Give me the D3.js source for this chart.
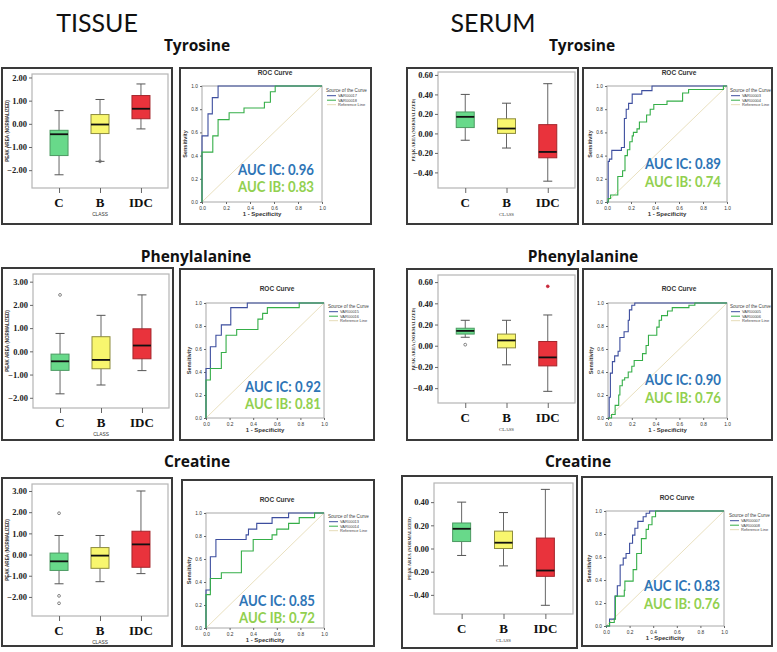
<!DOCTYPE html>
<html><head><meta charset="utf-8">
<script src="https://cdn.jsdelivr.net/npm/d3@7"></script>
<style>body{margin:0;background:#fff}svg{display:block}</style>
</head><body>
<svg id="chart" width="777" height="652"></svg>
<script>
// ---------------- DATA ----------------
const categories = ["C", "B", "IDC"];
const sectionTitles = ["TISSUE", "SERUM"];
const rowTitles = ["Tyrosine", "Phenylalanine", "Creatine"];

// box stats per class: [low whisker, Q1, median, Q3, high whisker]
const tissueTyrosineBox = [[-2.2, -1.37, -0.45, -0.28, 0.57], [-1.62, -0.42, -0.03, 0.40, 1.05], [-0.22, 0.22, 0.65, 1.22, 1.72]];
const tissueTyrosineOut = [[], [-1.62], []];
const tissuePhenylBox = [[-1.83, -0.82, -0.43, -0.12, 0.77], [-1.45, -0.75, -0.37, 0.63, 1.55], [-0.83, -0.32, 0.25, 0.97, 2.43]];
const tissuePhenylOut = [[2.43], [], []];
const tissueCreatineBox = [[-1.38, -0.75, -0.32, 0.07, 0.9], [-1.28, -0.65, -0.05, 0.33, 0.9], [-0.9, -0.6, 0.48, 1.1, 3.0]];
const tissueCreatineOut = [[1.95, -1.95, -2.3], [], []];
const serumTyrosineBox = [[-0.07, 0.06, 0.17, 0.22, 0.40], [-0.15, 0.0, 0.05, 0.15, 0.31], [-0.49, -0.25, -0.19, 0.09, 0.51]];
const serumTyrosineOut = [[], [], []];
const serumPhenylBox = [[0.08, 0.11, 0.14, 0.165, 0.24], [-0.18, -0.02, 0.05, 0.11, 0.24], [-0.43, -0.19, -0.11, 0.04, 0.29]];
const serumPhenylOut = [[0.01], [], [0.56]];
const serumCreatineBox = [[-0.06, 0.06, 0.17, 0.22, 0.40], [-0.15, 0.0, 0.05, 0.15, 0.31], [-0.49, -0.24, -0.19, 0.09, 0.51]];
const serumCreatineOut = [[], [], []];

// y tick values of the box plots
const tissueTicksRow1 = [-2, -1, 0, 1, 2];
const tissueTicksRow23 = [-2, -1, 0, 1, 2, 3];
const serumTicksRow12 = [-0.4, -0.2, 0, 0.2, 0.4, 0.6];
const serumTicksRow3 = [-0.4, -0.2, 0, 0.2, 0.4];
const rocTicks = [0, 0.2, 0.4, 0.6, 0.8, 1.0];

// ROC points [1 - specificity, sensitivity]
const tissueTyrosineIC = [[0, 0], [0, 0.57], [0.05, 0.76], [0.086, 0.90], [0.134, 1], [1, 1]];
const tissueTyrosineIB = [[0, 0], [0, 0.43], [0.09, 0.57], [0.134, 0.71], [0.226, 0.77], [0.35, 0.81], [0.52, 0.86], [0.57, 0.95], [0.61, 1], [1, 1]];
const serumTyrosineIC = [[0, 0], [0.01, 0.35], [0.02, 0.37], [0.04, 0.445], [0.105, 0.445], [0.12, 0.47], [0.14, 0.47], [0.145, 0.72], [0.16, 0.80], [0.18, 0.85], [0.21, 0.93], [0.29, 0.96], [0.375, 1], [1, 1]];
const serumTyrosineIB = [[0, 0], [0.01, 0.03], [0.03, 0.06], [0.09, 0.22], [0.13, 0.27], [0.15, 0.40], [0.17, 0.45], [0.19, 0.52], [0.21, 0.57], [0.22, 0.60], [0.25, 0.63], [0.27, 0.69], [0.33, 0.75], [0.36, 0.80], [0.39, 0.84], [0.46, 0.84], [0.50, 0.87], [0.63, 0.94], [0.68, 0.97], [0.97, 1], [1, 1]];
const tissuePhenylIC = [[0, 0], [0, 0.43], [0.037, 0.62], [0.084, 0.72], [0.13, 0.81], [0.21, 0.96], [0.35, 1], [1, 1]];
const tissuePhenylIB = [[0, 0], [0, 0.33], [0.037, 0.43], [0.13, 0.57], [0.17, 0.72], [0.26, 0.77], [0.44, 0.86], [0.48, 0.91], [0.52, 0.96], [0.79, 1], [1, 1]];
const serumPhenylIC = [[0, 0], [0.01, 0.18], [0.02, 0.39], [0.037, 0.49], [0.056, 0.54], [0.085, 0.58], [0.10, 0.70], [0.135, 0.75], [0.17, 0.85], [0.18, 0.94], [0.20, 0.98], [0.225, 1], [1, 1]];
const serumPhenylIB = [[0, 0], [0.03, 0.03], [0.06, 0.11], [0.09, 0.20], [0.10, 0.28], [0.12, 0.33], [0.14, 0.35], [0.17, 0.40], [0.20, 0.45], [0.22, 0.50], [0.27, 0.50], [0.29, 0.56], [0.32, 0.63], [0.34, 0.72], [0.41, 0.79], [0.43, 0.85], [0.45, 0.89], [0.50, 0.93], [0.54, 0.96], [0.68, 0.98], [0.73, 1], [1, 1]];
const tissueCreatineIC = [[0, 0], [0, 0.33], [0.037, 0.62], [0.084, 0.77], [0.34, 0.81], [0.36, 0.86], [0.43, 0.91], [0.56, 0.96], [0.70, 1], [1, 1]];
const tissueCreatineIB = [[0, 0], [0, 0.29], [0.037, 0.43], [0.13, 0.48], [0.30, 0.67], [0.40, 0.77], [0.56, 0.81], [0.60, 0.86], [0.70, 0.91], [0.79, 0.96], [0.92, 1], [1, 1]];
const serumCreatineIC = [[0, 0], [0.03, 0.06], [0.076, 0.10], [0.076, 0.26], [0.096, 0.35], [0.12, 0.53], [0.146, 0.59], [0.17, 0.63], [0.2, 0.72], [0.225, 0.79], [0.245, 0.85], [0.27, 0.91], [0.315, 0.95], [0.34, 0.98], [0.37, 1], [1, 1]];
const serumCreatineIB = [[0, 0], [0.03, 0.03], [0.07, 0.06], [0.08, 0.26], [0.155, 0.31], [0.16, 0.39], [0.23, 0.49], [0.26, 0.63], [0.30, 0.76], [0.34, 0.84], [0.36, 0.88], [0.39, 0.95], [0.42, 1], [1, 1]];

const aucIC = ["0.96", "0.89", "0.92", "0.90", "0.85", "0.83"];
const aucIB = ["0.83", "0.74", "0.81", "0.76", "0.72", "0.76"];
const curveNames = [["VAR00017", "VAR00018"], ["VAR00003", "VAR00004"], ["VAR00015", "VAR00016"], ["VAR00005", "VAR00006"], ["VAR00013", "VAR00014"], ["VAR00007", "VAR00008"]];

// ---------------- STYLE / LAYOUT ----------------
const boxFill = ["#68D98A", "#F8F66E", "#E9333C"];
const boxStroke = ["#4C9A62", "#8E8C3E", "#A5252B"];
const rocColors = {ic: "#3D4E9E", ib: "#35AE48", ref: "#E6DCB8"};
const aucColors = {ic: "#2E75B6", ib: "#92D050"};
const frameColor = "#3a3a3a";

const svg = d3.select("#chart");

// section titles
const sectionX = [97, 493];
sectionTitles.forEach((t, i) => {
  svg.append("text").attr("x", sectionX[i]).attr("y", 32).attr("text-anchor", "middle")
    .attr("font-family", "Lato, 'Open Sans', sans-serif").attr("font-size", 25).attr("fill", "#111").text(t);
});

// row titles: [tissueX, serumX, baseline]
const rowTitlePos = [[197, 582, 51], [196, 583, 262], [197, 578, 467]];
rowTitles.forEach((t, r) => {
  [0, 1].forEach(s => {
    svg.append("text").attr("x", rowTitlePos[r][s]).attr("y", rowTitlePos[r][2]).attr("text-anchor", "middle")
      .attr("font-family", "'Open Sans', Lato, sans-serif").attr("font-weight", "bold").attr("font-size", 15.5)
      .attr("fill", "#111").text(t);
  });
});

function frame(f) {
  svg.append("rect").attr("x", f[0]).attr("y", f[1]).attr("width", f[2] - f[0]).attr("height", f[3] - f[1])
    .attr("fill", "#fff").attr("stroke", frameColor).attr("stroke-width", 2);
}

function boxPanel(cfg, stats, outs, ticks) {
  frame(cfg.frame);
  const [l, t, r, b] = cfg.plot;
  const g = svg.append("g");
  const y = d3.scaleLinear().domain(cfg.domain).range([b, t]);
  const x = d3.scalePoint().domain(categories).range([l, r]).padding(0.66);
  g.append("rect").attr("x", l).attr("y", t).attr("width", r - l).attr("height", b - t)
    .attr("fill", "#fff").attr("stroke", "#b5b5b5").attr("stroke-width", 1.2);
  const ax = g.append("g").attr("transform", `translate(${l},0)`)
    .call(d3.axisLeft(y).tickValues(ticks).tickSize(3).tickFormat(d3.format(".2f")));
  ax.select(".domain").remove();
  ax.selectAll("line").attr("stroke", "#666");
  ax.selectAll("text").attr("font-family", "'Liberation Serif', serif").attr("font-weight", "bold")
    .attr("font-size", 8.5).attr("fill", "#222").attr("dx", 1);
  const bx = g.append("g").attr("transform", `translate(0,${b})`)
    .call(d3.axisBottom(x).tickSize(5).tickFormat(""));
  bx.select(".domain").remove();
  bx.selectAll("line").attr("stroke", "#666");
  categories.forEach((c, i) => {
    g.append("text").attr("x", x(c)).attr("y", b + 19).attr("text-anchor", "middle")
      .attr("font-family", "'Liberation Serif', serif").attr("font-weight", "bold").attr("font-size", 13)
      .attr("fill", "#111").text(c);
  });
  g.append("text").attr("x", (l + r) / 2).attr("y", b + 28).attr("text-anchor", "middle")
    .attr("font-family", cfg.serif ? "'Liberation Serif', serif" : "'Liberation Sans', sans-serif")
    .attr("font-size", 4.8).attr("fill", "#333").text("CLASS");
  g.append("text").attr("transform", `translate(${cfg.labelX},${(t + b) / 2}) rotate(-90)`)
    .attr("text-anchor", "middle")
    .attr("font-family", cfg.serif ? "'Liberation Serif', serif" : "'Liberation Sans', sans-serif")
    .attr("font-weight", "bold").attr("font-size", 4.6).attr("fill", "#333").text("PEAK AREA (NORMALIZED)");
  const bw = 18, cw = 9;
  stats.forEach((s, i) => {
    const cx = x(categories[i]);
    const [lo, q1, md, q3, hi] = s;
    g.append("line").attr("x1", cx).attr("x2", cx).attr("y1", y(lo)).attr("y2", y(hi)).attr("stroke", "#666").attr("stroke-width", 1);
    [lo, hi].forEach(v => g.append("line").attr("x1", cx - cw / 2).attr("x2", cx + cw / 2).attr("y1", y(v)).attr("y2", y(v))
      .attr("stroke", "#555").attr("stroke-width", 1));
    g.append("rect").attr("x", cx - bw / 2).attr("y", y(q3)).attr("width", bw).attr("height", y(q1) - y(q3))
      .attr("fill", boxFill[i]).attr("stroke", boxStroke[i]).attr("stroke-width", 1);
    g.append("line").attr("x1", cx - bw / 2).attr("x2", cx + bw / 2).attr("y1", y(md)).attr("y2", y(md))
      .attr("stroke", "#111").attr("stroke-width", 1.8);
    outs[i].forEach(v => {
      g.append("circle").attr("cx", cx).attr("cy", y(v)).attr("r", 1.4)
        .attr("fill", i === 2 && cfg.serif ? "#C8283A" : "none")
        .attr("stroke", i === 2 && cfg.serif ? "#C8283A" : "#666").attr("stroke-width", 0.8);
    });
  });
}

const stepLine = (x, y) => d3.line().x(d => x(d[0])).y(d => y(d[1])).curve(d3.curveStepAfter);

function rocPanel(cfg, ic, ib, names, auc1, auc2) {
  frame(cfg.frame);
  const g = svg.append("g");
  const x = d3.scaleLinear().domain([0, 1]).range([cfg.px[0], cfg.px[1]]);
  const y = d3.scaleLinear().domain([0, 1]).range([cfg.py[0], cfg.py[1]]);
  g.append("text").attr("x", cfg.titleX).attr("y", cfg.titleY).attr("text-anchor", "middle")
    .attr("font-family", "'Liberation Sans', Arial, sans-serif").attr("font-weight", "bold").attr("font-size", 6.5)
    .attr("fill", "#333").text("ROC Curve");
  g.append("rect").attr("x", x(0)).attr("y", y(1)).attr("width", x(1) - x(0)).attr("height", y(0) - y(1))
    .attr("fill", "#fff").attr("stroke", "#a8a8a8").attr("stroke-width", 1);
  const fmt = d3.format(".1f");
  const ay = g.append("g").attr("transform", `translate(${x(0)},0)`).call(d3.axisLeft(y).tickValues(rocTicks).tickSize(2).tickFormat(fmt));
  const axb = g.append("g").attr("transform", `translate(0,${y(0)})`).call(d3.axisBottom(x).tickValues(rocTicks).tickSize(2).tickFormat(fmt));
  [ay, axb].forEach(a => {
    a.select(".domain").remove();
    a.selectAll("line").attr("stroke", "#666");
    a.selectAll("text").attr("font-family", "'Liberation Sans', Arial, sans-serif").attr("font-size", 4.8).attr("fill", "#333");
  });
  ay.selectAll("text").attr("dx", 1);
  axb.selectAll("text").attr("dy", "0.55em");
  g.append("text").attr("x", (x(0) + x(1)) / 2).attr("y", y(0) + 14).attr("text-anchor", "middle")
    .attr("font-family", "'Liberation Sans', Arial, sans-serif").attr("font-weight", "bold").attr("font-size", 6)
    .attr("fill", "#333").text("1 - Specificity");
  g.append("text").attr("transform", `translate(${x(0) - 15},${(y(0) + y(1)) / 2}) rotate(-90)`).attr("text-anchor", "middle")
    .attr("font-family", "'Liberation Sans', Arial, sans-serif").attr("font-weight", "bold").attr("font-size", 5.5)
    .attr("fill", "#333").text("Sensitivity");
  g.append("line").attr("x1", x(0)).attr("y1", y(0)).attr("x2", x(1)).attr("y2", y(1))
    .attr("stroke", rocColors.ref).attr("stroke-width", 0.9);
  const ln = stepLine(x, y);
  g.append("path").attr("d", ln(ic)).attr("fill", "none").attr("stroke", rocColors.ic).attr("stroke-width", 1.1);
  g.append("path").attr("d", ln(ib)).attr("fill", "none").attr("stroke", rocColors.ib).attr("stroke-width", 1.1);
  // legend
  const lx = cfg.legend[0], ly = cfg.legend[1];
  const lf = "'Liberation Sans', Arial, sans-serif";
  g.append("text").attr("x", lx).attr("y", ly).attr("font-family", lf).attr("font-size", 4.6).attr("fill", "#444").text("Source of the Curve");
  const items = [[names[0], rocColors.ic], [names[1], rocColors.ib], ["Reference Line", rocColors.ref]];
  items.forEach((it, k) => {
    const yy = ly + 5 + k * 4.5;
    g.append("line").attr("x1", lx + 1).attr("x2", lx + 10).attr("y1", yy - 1.3).attr("y2", yy - 1.3).attr("stroke", it[1]).attr("stroke-width", 1);
    g.append("text").attr("x", lx + 12).attr("y", yy).attr("font-family", lf).attr("font-size", 4).attr("fill", "#444").text(it[0]);
  });
  const af = "Lato, 'Open Sans', sans-serif";
  g.append("text").attr("x", cfg.auc[0]).attr("y", cfg.auc[1]).attr("font-family", af).attr("font-weight", "bold")
    .attr("font-size", 14.5).attr("fill", aucColors.ic).attr("textLength", 76).attr("lengthAdjust", "spacingAndGlyphs").text("AUC IC: " + auc1);
  g.append("text").attr("x", cfg.auc[0]).attr("y", cfg.auc[2]).attr("font-family", af).attr("font-weight", "bold")
    .attr("font-size", 14.5).attr("fill", aucColors.ib).attr("textLength", 76).attr("lengthAdjust", "spacingAndGlyphs").text("AUC IB: " + auc2);
}

// ---------------- PANELS ----------------
boxPanel({frame: [2, 68, 172, 224], plot: [32, 74, 168, 188], domain: [-2.77, 2.15], labelX: 9}, tissueTyrosineBox, tissueTyrosineOut, tissueTicksRow1);
rocPanel({frame: [180, 68, 371, 224], px: [202, 322], py: [202, 86], titleX: 275, titleY: 75, legend: [326, 92], auc: [238, 175, 192]},
  tissueTyrosineIC, tissueTyrosineIB, curveNames[0], aucIC[0], aucIB[0]);
boxPanel({frame: [407, 68, 578, 224], plot: [438, 72, 575, 188], domain: [-0.56, 0.63], labelX: 415, serif: true}, serumTyrosineBox, serumTyrosineOut, serumTicksRow12);
rocPanel({frame: [583, 68, 772, 224], px: [607, 727], py: [202, 86], titleX: 679, titleY: 75, legend: [730, 92], auc: [645, 169, 187]},
  serumTyrosineIC, serumTyrosineIB, curveNames[1], aucIC[1], aucIB[1]);

boxPanel({frame: [2, 268, 173, 440], plot: [33, 274, 169, 408], domain: [-2.44, 3.33], labelX: 9}, tissuePhenylBox, tissuePhenylOut, tissueTicksRow23);
rocPanel({frame: [180, 269, 374, 440], px: [206, 324], py: [418, 303], titleX: 277, titleY: 291, legend: [328, 308], auc: [245, 392, 409]},
  tissuePhenylIC, tissuePhenylIB, curveNames[2], aucIC[2], aucIB[2]);
boxPanel({frame: [407, 269, 578, 440], plot: [438, 275, 575, 403], domain: [-0.54, 0.667], labelX: 415, serif: true}, serumPhenylBox, serumPhenylOut, serumTicksRow12);
rocPanel({frame: [583, 269, 772, 440], px: [608, 727], py: [418, 303], titleX: 679, titleY: 291, legend: [730, 308], auc: [645, 385, 403]},
  serumPhenylIC, serumPhenylIB, curveNames[3], aucIC[3], aucIB[3]);

boxPanel({frame: [2, 478, 172, 646], plot: [32, 484, 168, 616], domain: [-2.9, 3.33], labelX: 9}, tissueCreatineBox, tissueCreatineOut, tissueTicksRow23);
rocPanel({frame: [182, 480, 374, 646], px: [206, 324], py: [628, 513], titleX: 277, titleY: 502, legend: [328, 518], auc: [239, 606, 623]},
  tissueCreatineIC, tissueCreatineIB, curveNames[4], aucIC[4], aucIB[4]);
boxPanel({frame: [402, 476, 577, 648], plot: [434, 483, 573, 614], domain: [-0.565, 0.565], labelX: 411, serif: true}, serumCreatineBox, serumCreatineOut, serumTicksRow3);
rocPanel({frame: [582, 477, 772, 646], px: [606, 724], py: [626, 511], titleX: 677, titleY: 500, legend: [729, 517], auc: [644, 591, 609]},
  serumCreatineIC, serumCreatineIB, curveNames[5], aucIC[5], aucIB[5]);
</script>
</body></html>
